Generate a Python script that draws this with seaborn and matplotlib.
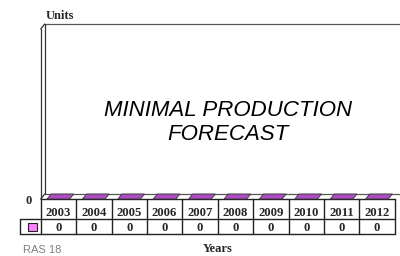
import matplotlib
matplotlib.use("Agg")
import matplotlib.pyplot as plt
import matplotlib.transforms as mtransforms
from matplotlib.patches import Polygon, Rectangle
import seaborn as sns
import pandas as pd

# ---- data ----
years = ["2003", "2004", "2005", "2006", "2007", "2008", "2009", "2010", "2011", "2012"]
values = [0, 0, 0, 0, 0, 0, 0, 0, 0, 0]
value_labels = ["0"] * 10
y_ticks = [0]
title_lines = ["MINIMAL PRODUCTION", "FORECAST"]
y_title = "Units"
x_title = "Years"
footer = "RAS 18"

front_color = "#FF80FF"
top_color = "#AE4CC2"
line_color = "#333333"

sns.set_theme(style="white")
plt.rcParams["font.family"] = ["Liberation Sans", "DejaVu Sans"]

W, H = 400, 256
fig = plt.figure(figsize=(W / 100, H / 100), dpi=100)
fig.patch.set_facecolor("white")

# front plane of the 3D plot (pixels, origin top-left)
L, R, T, B = 40.7, 394.7, 29, 199
ax = fig.add_axes([L / W, (H - B) / H, (R - L) / W, (B - T) / H])
df = pd.DataFrame({"year": years, "value": values})
sns.barplot(data=df, x="year", y="value", color=front_color, width=0.64,
            linewidth=0, ax=ax)
ax.set_xlim(-0.5, len(years) - 0.5)
ax.set_ylim(0, 1)
ax.set_facecolor("none")
for s in ax.spines.values():
    s.set_visible(False)
ax.set_xticks([])
ax.set_xlabel("")
ax.set_ylabel("")
ax.set_yticks(y_ticks)
ax.set_yticklabels([str(t) for t in y_ticks], family="Liberation Serif",
                   fontweight="bold", fontsize=9)
ax.tick_params(axis="y", length=0, pad=6.5)

DX, DY = 4, 5
off = mtransforms.offset_copy(ax.transData, fig=fig, x=DX, y=DY, units="dots")
x0, x1 = -0.5, len(years) - 0.5
lw = 0.9
# back wall
ax.plot([x0, x1 + 0.3], [1, 1], color="#555555", lw=lw, transform=off, clip_on=False)
ax.plot([x0, x0], [0, 1], color=line_color, lw=lw, transform=off, clip_on=False)
ax.plot([x0, x1 + 0.3], [0, 0], color="#555555", lw=lw, transform=off, clip_on=False)
# left wall front edge
ax.plot([x0, x0], [0, 1], color=line_color, lw=lw, clip_on=False)
# diagonals
I = mtransforms.IdentityTransform()
for yv in (0, 1):
    p = ax.transData.transform((x0, yv))
    ax.plot([p[0], p[0] + DX], [p[1], p[1] + DY], color=line_color, lw=lw,
            transform=I, clip_on=False)

# top faces of the (zero-height) bars
for p in ax.patches:
    bx, bw, bh = p.get_x(), p.get_width(), p.get_height()
    a = ax.transData.transform((bx, bh))
    b = ax.transData.transform((bx + bw, bh))
    poly = Polygon([a, b, (b[0] + DX, b[1] + DY), (a[0] + DX, a[1] + DY)],
                   closed=True, facecolor=top_color, edgecolor=line_color,
                   lw=0.6, transform=I, clip_on=False, zorder=3)
    fig.patches.append(poly)

# ---- data table (pixel coordinates, origin top-left) ----
def P(x, y):
    return (x, H - y)

row_top, row_mid, row_bot = 199, 219, 234
leg_left = 20
edges = [ax.transData.transform((i - 0.5, 0))[0] for i in range(len(years) + 1)]
tl = "#222222"
def hline(xa, xb, y):
    fig.add_artist(plt.Line2D([xa, xb], [H - y, H - y], color=tl, lw=1.0, transform=I))
def vline(x, ya, yb):
    fig.add_artist(plt.Line2D([x, x], [H - ya, H - yb], color=tl, lw=1.0, transform=I))

hline(edges[0], edges[-1], row_top)
hline(leg_left, edges[-1], row_mid)
hline(leg_left, edges[-1], row_bot)
for e in edges:
    vline(e, row_top, row_bot)
vline(leg_left, row_mid, row_bot)
# legend swatch
fig.add_artist(Rectangle(P(27.5, 231), 9, 8, facecolor=front_color,
                         edgecolor=tl, lw=0.8, transform=I))

for i, (yr, vl) in enumerate(zip(years, value_labels)):
    cx = (edges[i] + edges[i + 1]) / 2
    fig.text(cx / W, (H - 216) / H, yr, ha="center", va="baseline",
             family="Liberation Serif", fontweight="bold", fontsize=9.2)
    fig.text(cx / W, (H - 231) / H, vl, ha="center", va="baseline",
             family="Liberation Serif", fontweight="bold", fontsize=9.2)

# ---- texts ----
fig.text(45.5 / W, (H - 19) / H, y_title, ha="left", va="baseline",
         family="Liberation Serif", fontweight="bold", fontsize=9)
fig.text(((edges[0] + edges[-1]) / 2) / W, (H - 252) / H, x_title,
         ha="center", va="baseline", family="Liberation Serif",
         fontweight="bold", fontsize=9)
fig.text(23 / W, (H - 253) / H, footer, ha="left", va="baseline",
         family="Liberation Sans", fontsize=8, color="#808080")
for txt, base in zip(title_lines, (116.5, 139.5)):
    fig.text(228.5 / W, (H - base) / H, txt, ha="center", va="baseline",
             family="Liberation Sans", style="italic", fontsize=16, color="black")

fig.savefig("out.png", dpi=100)
